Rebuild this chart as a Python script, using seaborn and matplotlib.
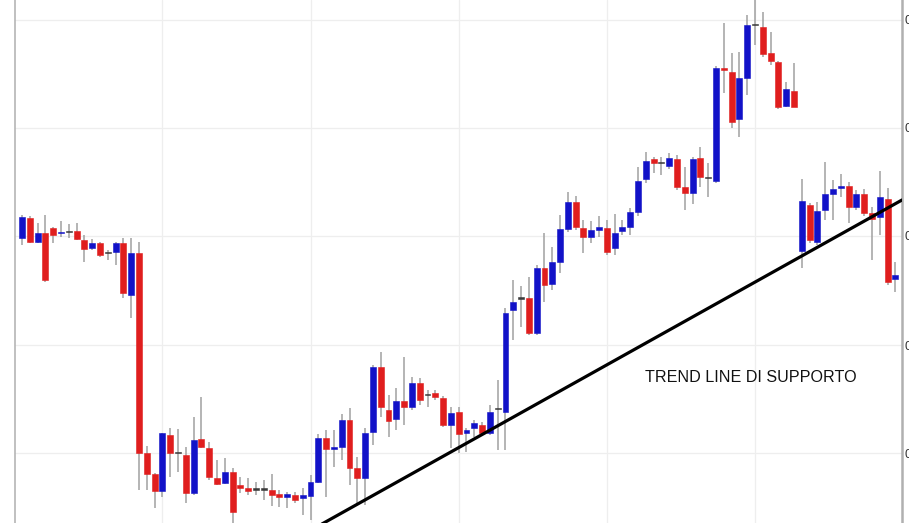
import numpy as np
import matplotlib
matplotlib.use("Agg")
import matplotlib.pyplot as plt
import seaborn as sns

# OHLC prices (in pips, divided by 10000 below)
open_ = [7215, 7235, 7211, 7220, 7225, 7220, 7221, 7222, 7213, 7205,
         7210, 7200, 7201, 7210, 7158, 7200, 7000, 6979, 6962, 7018,
         7000, 6998, 6960, 7014, 7005, 6975, 6970, 6981, 6968, 6965,
         6963, 6963, 6963, 6959, 6956, 6958, 6955, 6957, 6971, 7015,
         7004, 7006, 7033, 6985, 6975, 7021, 7086, 7043, 7034, 7052,
         7046, 7070, 7058, 7060, 7055, 7028, 7041, 7020, 7025, 7028,
         7020, 7044, 7041, 7143, 7154, 7155, 7120, 7185, 7169, 7191,
         7224, 7251, 7225, 7216, 7223, 7225, 7205, 7222, 7226, 7241,
         7274, 7294, 7290, 7287, 7294, 7266, 7260, 7295, 7275, 7272,
         7385, 7381, 7334, 7375, 7428, 7426, 7400, 7391, 7347, 7362,
         7202, 7248, 7211, 7243, 7259, 7265, 7267, 7246, 7259, 7240,
         7236, 7254, 7174]
high = [7238, 7237, 7230, 7238, 7226, 7232, 7229, 7230, 7218, 7214,
        7211, 7203, 7211, 7215, 7215, 7211, 7007, 6980, 7020, 7025,
        7024, 7006, 7036, 7056, 7011, 6993, 6995, 6985, 6976, 6975,
        6971, 6973, 6979, 6963, 6961, 6961, 6965, 6978, 7019, 7023,
        7023, 7039, 7045, 6996, 7025, 7088, 7101, 7058, 7065, 7096,
        7076, 7075, 7063, 7063, 7057, 7046, 7046, 7025, 7033, 7031,
        7048, 7073, 7145, 7173, 7167, 7176, 7188, 7220, 7206, 7238,
        7261, 7257, 7233, 7232, 7237, 7233, 7239, 7233, 7245, 7286,
        7301, 7296, 7296, 7300, 7298, 7286, 7296, 7306, 7290, 7387,
        7430, 7400, 7401, 7438, 7460, 7441, 7421, 7392, 7371, 7390,
        7274, 7250, 7251, 7291, 7273, 7279, 7271, 7263, 7264, 7246,
        7282, 7265, 7191]
low = [7208, 7210, 7210, 7171, 7210, 7216, 7215, 7213, 7191, 7203,
       7196, 7193, 7188, 7155, 7135, 6963, 6963, 6945, 6956, 6976,
       6981, 6950, 6958, 7005, 6973, 6968, 6969, 6925, 6960, 6958,
       6958, 6953, 6947, 6946, 6945, 6950, 6938, 6933, 6970, 6956,
       6986, 6993, 6968, 6950, 6948, 7008, 7036, 7016, 7023, 7028,
       7043, 7048, 7046, 7053, 7026, 7005, 7000, 7001, 7016, 7018,
       7018, 7003, 7003, 7113, 7126, 7118, 7118, 7151, 7163, 7180,
       7221, 7223, 7200, 7210, 7216, 7198, 7198, 7218, 7218, 7237,
       7270, 7280, 7278, 7284, 7263, 7243, 7249, 7266, 7256, 7270,
       7360, 7325, 7316, 7358, 7408, 7396, 7388, 7344, 7346, 7346,
       7185, 7210, 7208, 7233, 7233, 7256, 7230, 7243, 7237, 7193,
       7218, 7168, 7161]
close = [7236, 7211, 7220, 7173, 7218, 7221, 7221, 7214, 7204, 7210,
         7198, 7200, 7210, 7160, 7200, 7000, 6979, 6962, 7020, 7000,
         7000, 6960, 7013, 7006, 6976, 6969, 6981, 6941, 6965, 6962,
         6963, 6963, 6958, 6956, 6959, 6953, 6958, 6971, 7015, 7004,
         7006, 7033, 6985, 6975, 7020, 7086, 7046, 7032, 7052, 7046,
         7070, 7053, 7058, 7056, 7028, 7040, 7019, 7023, 7030, 7020,
         7041, 7044, 7140, 7151, 7154, 7120, 7185, 7168, 7191, 7224,
         7251, 7226, 7216, 7223, 7226, 7201, 7220, 7226, 7241, 7272,
         7292, 7290, 7290, 7295, 7266, 7260, 7294, 7276, 7275, 7385,
         7383, 7331, 7375, 7428, 7428, 7399, 7392, 7346, 7364, 7346,
         7252, 7213, 7242, 7259, 7264, 7267, 7246, 7259, 7240, 7234,
         7256, 7171, 7178]

# trend line anchors (candle index, price in pips)
trend_x = [38.0, 112.85]
trend_y = [6927, 7253]
label_text = "TREND LINE DI SUPPORTO"
y_ticks = [7000, 7108, 7217, 7325, 7433]
x_grid = [18, 37, 56, 75, 94]

o = np.array(open_) / 10000
h = np.array(high) / 10000
l = np.array(low) / 10000
c = np.array(close) / 10000
idx = np.arange(len(o))

sns.set_style("white")
plt.rcParams['font.family'] = ['Liberation Sans', 'DejaVu Sans']

fig = plt.figure(figsize=(9.09, 5.23), dpi=100)
ax = fig.add_axes([15 / 909, 0, 887 / 909, 1])

BLUE = "#1212c8"
RED = "#e01e1e"
DOJI = "#3a3a3a"

colors = []
for oo, cc in zip(o, c):
    if cc > oo:
        colors.append(BLUE)
    elif cc < oo:
        colors.append(RED)
    else:
        colors.append(DOJI)

# wicks
ax.vlines(idx, l, h, color="#a0a0a0", linewidth=1.1, zorder=2)

# bodies
bottom = np.minimum(o, c)
height = np.maximum(np.abs(c - o), 0.00015)
ax.bar(idx, height, bottom=bottom, width=0.76, color=colors,
       edgecolor=colors, linewidth=0.4, zorder=3)

# trend line
sns.lineplot(x=trend_x, y=np.array(trend_y) / 10000, ax=ax, color="black",
             linewidth=2.3, zorder=4)

ax.text(79.9, 0.7076, label_text, fontsize=11.6, color="#111111",
        va="center", ha="left")

ax.set_xlim(-0.9, 112.85)
ax.set_ylim(0.6930, 0.7453)

ax.set_yticks(np.array(y_ticks) / 10000)
ax.set_yticklabels([f"{t / 10000:.4f}" for t in y_ticks])
ax.yaxis.tick_right()
ax.tick_params(axis="y", length=0, pad=2, labelsize=9, labelcolor="#333333")
ax.set_xticks(x_grid)
ax.set_xticklabels([])
ax.tick_params(axis="x", length=0)

ax.grid(True, color="#eeeeee", linewidth=0.9)
ax.set_axisbelow(True)

for side in ["top", "bottom"]:
    ax.spines[side].set_visible(False)
ax.spines["left"].set_color("#b5b5b5")
ax.spines["left"].set_linewidth(1.2)
ax.spines["right"].set_color("#b0b0b0")
ax.spines["right"].set_linewidth(1.8)

fig.savefig("out.png", dpi=100)
